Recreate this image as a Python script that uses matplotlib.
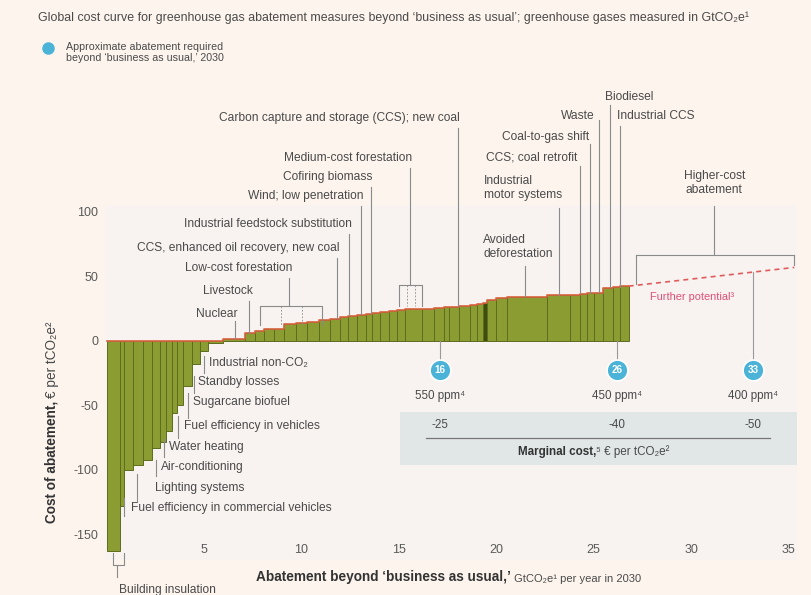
import matplotlib
matplotlib.use('Agg')
import matplotlib.pyplot as plt
from matplotlib import font_manager
from matplotlib.patches import Rectangle
from matplotlib.lines import Line2D
import numpy as np

# ---------------- data ----------------
bar_widths = [0.70, 0.17, 0.51, 0.47, 0.50, 0.40, 0.30, 0.30, 0.25, 0.30, 0.50, 0.40, 0.40, 0.80, 1.13,
              0.47, 0.47, 0.53, 0.49, 0.61, 0.59, 0.61, 0.59, 0.51, 0.40, 0.46, 0.44, 0.30, 0.45,
              0.45, 0.41, 0.39, 0.90, 0.59, 0.51, 0.30, 0.50, 0.57, 0.33, 0.30, 0.22, 0.48, 0.55,
              2.05, 1.20, 0.50, 0.35, 0.35, 0.50, 0.50, 0.35, 0.45]
bar_costs = [-163, -128, -100, -96, -92, -83, -78, -70, -56, -50, -35, -18, -8, -1.5, 1.5,
             6, 7.5, 9, 9.5, 13, 14, 15, 16, 17, 18.5, 19.5, 20.5, 21, 21.5,
             22.5, 23, 24, 24.5, 25, 25.5, 26, 26.5, 27, 27.5, 28.5, 29.5, 32, 33,
             34.4, 35.4, 36, 36.5, 37, 37.5, 41, 41.5, 42.5]

x_ticks = [5, 10, 15, 20, 25, 30, 35]
x_tick_labels = ['5', '10', '15', '20', '25', '30', '35']
y_ticks = [100, 50, 0, -50, -100, -150]
y_tick_labels = ['100', '50', '0', '-50', '-100', '-150']

further_x = [26.8, 35.3]
further_y = [42.5, 57.0]

required_abatement = [17.1, 26.2, 33.2]
required_labels = ['16', '26', '33']
ppm_labels = ['550 ppm\u2074', '450 ppm\u2074', '400 ppm\u2074']
marginal_costs = ['-25', '-40', '-50']

# label text, text x, text y, alignment, leader x, leader top y
top_labels = [
    ('Carbon capture and storage (CCS); new coal', 18.15, 172.9, 'right', 18.05, 165),
    ('Cofiring biomass', 13.65, 127.1, 'right', 13.57, 119),
    ('Wind; low penetration', 13.2, 112.4, 'right', 13.08, 105),
    ('Industrial feedstock substitution', 12.6, 90.7, 'right', 12.46, 83),
    ('CCS, enhanced oil recovery, new coal', 11.95, 72.1, 'right', 11.85, 64),
    ('Livestock', 7.5, 38.8, 'right', 7.33, 31),
    ('Nuclear', 6.75, 20.9, 'right', 6.6, 15.5),
    ('Biodiesel', 25.6, 189.0, 'left', 25.85, 183),
    ('Industrial CCS', 26.2, 174.4, 'left', 26.35, 167),
    ('Waste', 25.05, 174.4, 'right', 25.28, 171),
    ('Coal-to-gas shift', 24.8, 158.0, 'right', 24.82, 153),
    ('CCS; coal retrofit', 24.15, 141.9, 'right', 24.31, 136),
    ('Industrial\nmotor systems', 19.38, 118.6, 'left', 23.23, 103),
    ('Avoided\ndeforestation', 19.33, 72.9, 'left', 21.49, 58),
]
bracket_labels = [
    # text, text x, text y, leader x, bracket left, bracket right, bracket top, bracket bottom
    ('Medium-cost forestation', 15.7, 141.9, 15.6, 15.03, 16.2, 43.4, 27.0),
    ('Low-cost forestation', 9.55, 56.6, 9.38, 7.9, 11.08, 27.1, 12.4),
]
bottom_labels = [
    ('Industrial non-CO\u2082', 5.28, -17.0, 4.98, -12, -25),
    ('Standby losses', 4.67, -31.8, 4.50, -27, -40),
    ('Sugarcane biofuel', 4.46, -47.3, 4.18, -40, -60),
    ('Fuel efficiency in vehicles', 3.95, -65.9, 3.67, -58, -75),
    ('Water heating', 3.23, -82.2, 2.95, -76, -90),
    ('Air-conditioning', 2.77, -97.7, 2.55, -92, -105),
    ('Lighting systems', 2.51, -114.0, 1.54, -103, -124),
    ('Fuel efficiency in commercial vehicles', 1.28, -129.5, 0.92, -122, -136),
]

title = ('Global cost curve for greenhouse gas abatement measures beyond \u2018business as usual\u2019; '
         'greenhouse gases measured in GtCO\u2082e\u00b9')

# ---------------- style ----------------
names = {f.name for f in font_manager.fontManager.ttflist}
BASE = 'Liberation Sans Narrow' if 'Liberation Sans Narrow' in names else 'Liberation Sans'
plt.rcParams['font.family'] = [BASE, 'DejaVu Sans']

FIG_BG = '#fcf4ed'
PANEL_BG = '#f8f3f0'
TXT = '#4a4a4a'
LINE = '#8a8a8a'
BAR = '#8b9c32'
BAR_EDGE = '#5c6d1e'
CURVE = '#d8623e'
BLUE = '#4cb3d8'
PINK = '#e0507a'

W, H = 811, 595
fig = plt.figure(figsize=(W / 100, H / 100), dpi=100, facecolor=FIG_BG)
renderer = fig.canvas.get_renderer()


def fit_size(s, target_px, weight='normal'):
    t = fig.text(0, 0, s, fontsize=10, weight=weight)
    w = t.get_window_extent(renderer=renderer).width
    t.remove()
    return 10 * target_px / w


LABEL_FS = fit_size('Carbon capture and storage (CCS); new coal', 240)
TITLE_FS = fit_size(title, 707)
LEG_FS = fit_size('Approximate abatement required', 156)
TICK_FS = fit_size('-150', 25)
XL_FS = fit_size('Abatement beyond \u2018business as usual,\u2019', 255, 'bold')
PPM_FS = fit_size('550 ppm\u2074', 50)

ax = fig.add_axes([105 / W, 1 - 560 / H, 692 / W, 355 / H])
ax.set_facecolor(PANEL_BG)
ax.set_xlim(-0.08, 35.44)
ax.set_ylim(-169.8, 105.4)
for s in ax.spines.values():
    s.set_visible(False)

ax.set_xticks(x_ticks)
ax.set_xticklabels(x_tick_labels)
ax.set_yticks(y_ticks)
ax.set_yticklabels(y_tick_labels)
ax.tick_params(axis='both', length=0, colors='#5a5a5a', labelsize=TICK_FS)
ax.tick_params(axis='x', pad=-11.5)
ax.tick_params(axis='y', pad=5)

# bars
edges = np.concatenate([[0.0], np.cumsum(bar_widths)])
lefts = edges[:-1]
bars = ax.bar(lefts, bar_costs, width=bar_widths, align='edge', color=BAR,
              edgecolor=BAR_EDGE, linewidth=0.7, zorder=2)
bars[40].set_facecolor('#3e4d0c')
tops = np.maximum(np.array(bar_costs, dtype=float), 0)
ax.step(edges, np.append(tops, tops[-1]), where='post', color=CURVE, lw=1.2, zorder=3)
ax.plot(further_x, further_y, color='#e05a5a', lw=1.2, ls=(0, (3, 2.5)), zorder=3, clip_on=False)


def cost_at(x):
    i = np.searchsorted(edges, x) - 1
    i = min(max(i, 0), len(bar_costs) - 1)
    return max(bar_costs[i], 0)


lk = dict(color=LINE, lw=0.8, zorder=4, clip_on=False)
tk = dict(color=TXT, fontsize=LABEL_FS, va='center', zorder=6, linespacing=1.15)

for txt, tx, ty, ha, lx, ly in top_labels:
    ax.text(tx, ty, txt, ha=ha, **tk)
    ax.plot([lx, lx], [ly, cost_at(lx) + 0.5], **lk)

for txt, tx, ty, lx, bl, br, bt, bb in bracket_labels:
    ax.text(tx, ty, txt, ha='right', **tk)
    ax.plot([lx, lx], [ty - 7.5, bt], **lk)
    ax.plot([bl, bl, br, br], [bb, bt, bt, bb], **lk)
    for dx in (0.33, 0.67):
        xx = bl + (br - bl) * dx
        ax.plot([xx, xx], [bt, bb], color=LINE, lw=0.6, ls=(0, (2, 2)), zorder=4)

for txt, tx, ty, lx, y0, y1 in bottom_labels:
    ax.text(tx, ty, txt, ha='left', **tk)
    ax.plot([lx, lx], [y0, y1], **lk)

# building insulation bracket
ax.plot([0.31, 0.31, 0.87, 0.87], [-164, -173.6, -173.6, -164], **lk)
ax.plot([0.56, 0.56], [-173.6, -183], **lk)
ax.text(0.62, -193, 'Building insulation', ha='left', **tk)

# higher-cost abatement bracket
hb_l, hb_r, hb_t = 27.2, 35.3, 66.7
ax.plot([hb_l, hb_l], [np.interp(hb_l, further_x, further_y) + 1, hb_t], **lk)
ax.plot([hb_l, hb_r], [hb_t, hb_t], **lk)
ax.plot([hb_r, hb_r], [hb_t, np.interp(hb_r, further_x, further_y) + 1.5], **lk)
ax.plot([31.2, 31.2], [hb_t, 104.5], **lk)
ax.text(31.2, 122.5, 'Higher-cost\nabatement', ha='center', **tk)
ax.text(27.9, 34, 'Further potential\u00b3', ha='left', va='center', color=PINK,
        fontsize=LABEL_FS * 0.92, zorder=6)

# required abatement markers
for x, lab, ppm, mc in zip(required_abatement, required_labels, ppm_labels, marginal_costs):
    top = np.interp(x, further_x, further_y) if x > further_x[0] + 0.5 else 0
    ax.plot([x, x], [top, -16], color='#9a9a9a', lw=0.8, zorder=4)
    ax.plot([x], [-22.5], 'o', ms=15, mfc=BLUE, mec='white', mew=1.2, zorder=5)
    ax.text(x, -22.5, lab, ha='center', va='center', color='white',
            fontsize=PPM_FS * 0.85, weight='bold', zorder=6)
    ax.text(x, -42.6, ppm, ha='center', va='center', color=TXT, fontsize=PPM_FS, zorder=6)
    ax.text(x, -65, mc, ha='center', va='center', color=TXT, fontsize=PPM_FS, zorder=6)

ax.add_patch(Rectangle((15.08, -96), 35.44 - 15.08, 41, facecolor='#e1e7e7',
                       edgecolor='none', zorder=1))
ax.plot([16.4, 34.05], [-75, -75], color='#777777', lw=0.9, zorder=4)
mc_b = ax.text(21.1, -86, 'Marginal cost,', ha='left', va='center', color='#333333',
               fontsize=PPM_FS, weight='bold', zorder=6)
ax.annotate('\u2075 \u20ac per tCO\u2082e\u00b2', xy=(1, 0), xycoords=mc_b, ha='left', va='bottom',
            color=TXT, fontsize=PPM_FS, zorder=6)

# axis labels
xl_b = fig.text(256 / W, 1 - 577 / H, 'Abatement beyond \u2018business as usual,\u2019', ha='left',
                va='center', color='#333333', fontsize=XL_FS, weight='bold')
ax.annotate(' GtCO\u2082e\u00b9 per year in 2030', xy=(1, 0), xycoords=xl_b, ha='left',
            va='bottom', color=TXT, fontsize=XL_FS * 0.82, annotation_clip=False)

yl_b = fig.text(52 / W, 1 - 523 / H, 'Cost of abatement,', rotation=90, ha='center', va='bottom',
                color='#333333', fontsize=XL_FS, weight='bold')
ax.annotate('\u20ac per tCO\u2082e\u00b2', xy=(0.5, 1), xycoords=yl_b, xytext=(0, 2),
            textcoords='offset points', rotation=90, ha='center', va='bottom',
            color=TXT, fontsize=XL_FS, annotation_clip=False)

# title and legend
fig.text(38 / W, 1 - 18 / H, title, ha='left', va='center', color=TXT, fontsize=TITLE_FS)
fig.add_artist(Line2D([48 / W], [1 - 48 / H], marker='o', ms=8, color=BLUE,
                      transform=fig.transFigure))
fig.text(66 / W, 1 - 52.5 / H, 'Approximate abatement required\nbeyond \u2018business as usual,\u2019 2030',
         ha='left', va='center', color=TXT, fontsize=LEG_FS, linespacing=1.15)

fig.savefig('out.png', dpi=100, facecolor=FIG_BG)
